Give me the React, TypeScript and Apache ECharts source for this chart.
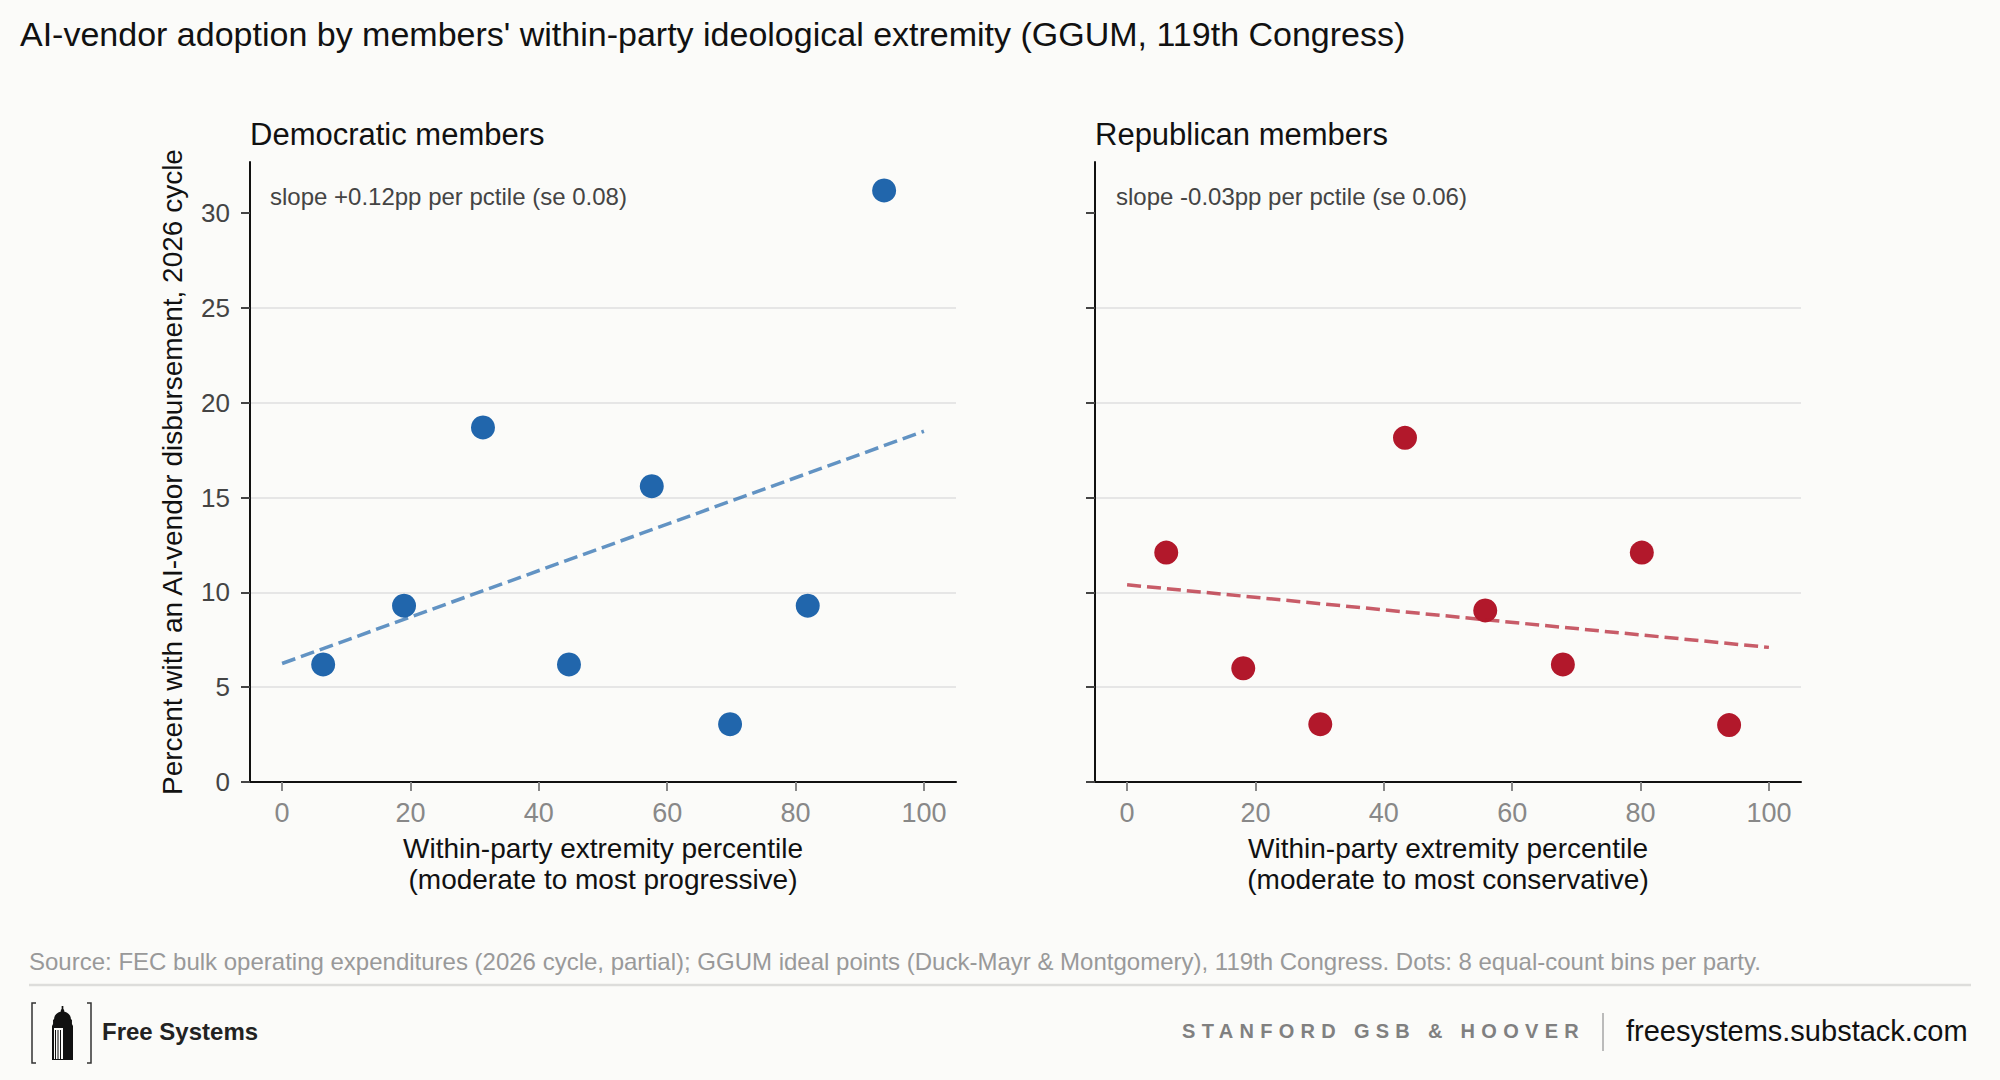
import { useEffect, useRef } from 'react';
import * as echarts from 'echarts';

// binned points
const demX = [6.4, 19.0, 31.3, 44.7, 57.6, 69.8, 81.9, 93.8];
const demY = [6.2, 9.3, 18.7, 6.2, 15.6, 3.05, 9.3, 31.2];
const repX = [6.1, 18.1, 30.1, 43.3, 55.8, 67.9, 80.2, 93.8];
const repY = [12.1, 6.0, 3.05, 18.15, 9.05, 6.2, 12.1, 3.0];

// fitted line ends
const fitX = [0, 100];
const demFit = [6.25, 18.5];
const repFit = [10.4, 7.1];

const xTicks = [0, 20, 40, 60, 80, 100];
const yTicks = [0, 5, 10, 15, 20, 25, 30];

const FONT = '"Liberation Sans", Arial, Helvetica, sans-serif';
const DEM = '#2166ac';
const REP = '#b2182b';
const BG = '#fbfbf9';

const TOWER =
  'M9.2 0 L10.8 0 L10.8 3 L11.6 4 L11.6 5.5 C15.5 6.5 18 9.5 18 13 L19 14 L19 18 L20 20 L20 54 L0 54 L0 20 L1 18 L1 14 L2 13 C2 9.5 4.5 6.5 8.4 5.5 L8.4 4 L9.2 3 Z';
echarts.graphic.registerShape('tower', echarts.graphic.extendPath(TOWER, {}));

const xAxisFor = (gridIndex: number, name: string) => ({
  type: 'value',
  gridIndex,
  min: -5,
  max: 105,
  name,
  nameLocation: 'middle',
  nameGap: 51,
  nameTextStyle: { color: '#111', fontSize: 28, lineHeight: 31, fontFamily: FONT },
  axisLine: { show: true, onZero: false, lineStyle: { color: '#111', width: 2 } },
  axisTick: { show: true, length: 9, customValues: xTicks, lineStyle: { color: '#888', width: 2 } },
  axisLabel: { customValues: xTicks, color: '#888', fontSize: 27, margin: 17, fontFamily: FONT },
  splitLine: { show: false },
});

const yAxisFor = (gridIndex: number, showLabels: boolean, name: string) => ({
  type: 'value',
  gridIndex,
  min: 0,
  max: 32.7,
  interval: 5,
  name,
  nameLocation: 'middle',
  nameGap: 64,
  nameRotate: 90,
  nameTextStyle: { color: '#111', fontSize: 28, fontFamily: FONT },
  axisLine: { show: true, onZero: false, lineStyle: { color: '#111', width: 2 } },
  axisTick: { show: true, length: 9, customValues: yTicks, lineStyle: { color: '#444', width: 2 } },
  axisLabel: { show: showLabels, customValues: yTicks, color: '#444', fontSize: 26, margin: 20, fontFamily: FONT },
  splitLine: { show: true, showMinLine: false, showMaxLine: false, lineStyle: { color: '#e6e6e6', width: 2 } },
});

const txt = (text: string, x: number, y: number, fontSize: number, fill: string, extra: any = {}) => ({
  type: 'text',
  x,
  y,
  style: {
    text,
    fontSize,
    fill,
    fontFamily: FONT,
    align: 'left',
    verticalAlign: 'middle',
    textAlign: 'left',
    textVerticalAlign: 'middle',
    ...extra,
  },
});

export default function App() {
  const ref = useRef<HTMLDivElement>(null);

  useEffect(() => {
    if (!ref.current) return;
    document.body.style.margin = '0';
    const chart = echarts.init(ref.current, undefined, { renderer: 'svg' });

    const option: any = {
      animation: false,
      backgroundColor: BG,
      textStyle: { fontFamily: FONT },
      grid: [
        { left: 250, top: 162, width: 706, height: 620 },
        { left: 1095, top: 162, width: 706, height: 620 },
      ],
      xAxis: [
        xAxisFor(0, 'Within-party extremity percentile\n(moderate to most progressive)'),
        xAxisFor(1, 'Within-party extremity percentile\n(moderate to most conservative)'),
      ],
      yAxis: [
        yAxisFor(0, true, 'Percent with an AI-vendor disbursement, 2026 cycle'),
        yAxisFor(1, false, ''),
      ],
      series: [
        {
          type: 'scatter',
          xAxisIndex: 0,
          yAxisIndex: 0,
          symbolSize: 24,
          itemStyle: { color: DEM, opacity: 1 },
          data: demX.map((x, i) => [x, demY[i]]),
          z: 3,
        },
        {
          type: 'line',
          xAxisIndex: 0,
          yAxisIndex: 0,
          showSymbol: false,
          lineStyle: { color: DEM, opacity: 0.7, width: 3.5, type: [14, 6] },
          data: fitX.map((x, i) => [x, demFit[i]]),
          z: 4,
        },
        {
          type: 'scatter',
          xAxisIndex: 1,
          yAxisIndex: 1,
          symbolSize: 24,
          itemStyle: { color: REP, opacity: 1 },
          data: repX.map((x, i) => [x, repY[i]]),
          z: 3,
        },
        {
          type: 'line',
          xAxisIndex: 1,
          yAxisIndex: 1,
          showSymbol: false,
          lineStyle: { color: REP, opacity: 0.7, width: 3.5, type: [14, 6] },
          data: fitX.map((x, i) => [x, repFit[i]]),
          z: 4,
        },
      ],
      graphic: [
        txt("AI-vendor adoption by members' within-party ideological extremity (GGUM, 119th Congress)", 20, 34, 34, '#111'),
        txt('Democratic members', 250, 134, 31, '#111'),
        txt('Republican members', 1095, 134, 31, '#111'),
        txt('slope +0.12pp per pctile (se 0.08)', 270, 196, 24, '#444'),
        txt('slope -0.03pp per pctile (se 0.06)', 1116, 196, 24, '#444'),
        txt(
          'Source: FEC bulk operating expenditures (2026 cycle, partial); GGUM ideal points (Duck-Mayr & Montgomery), 119th Congress. Dots: 8 equal-count bins per party.',
          29,
          961,
          24,
          '#999'
        ),
        {
          type: 'line',
          shape: { x1: 29, y1: 985, x2: 1971, y2: 985 },
          style: { stroke: '#dddddb', lineWidth: 2.5 },
        },
        // logo
        {
          type: 'polyline',
          shape: { points: [[36, 1003], [32, 1003], [32, 1063], [36, 1063]] },
          style: { stroke: '#333', lineWidth: 1.5, fill: null },
        },
        {
          type: 'polyline',
          shape: { points: [[87, 1003], [91, 1003], [91, 1063], [87, 1063]] },
          style: { stroke: '#333', lineWidth: 1.5, fill: null },
        },
        { type: 'tower', x: 52, y: 1006, scaleX: 1.05, scaleY: 1, style: { fill: '#111' } },
        { type: 'rect', shape: { x: 54, y: 1028, width: 9, height: 31 }, style: { fill: BG } },
        { type: 'line', shape: { x1: 55.5, y1: 1030, x2: 55.5, y2: 1059 }, style: { stroke: '#111', lineWidth: 1 } },
        { type: 'line', shape: { x1: 58, y1: 1030, x2: 58, y2: 1059 }, style: { stroke: '#111', lineWidth: 1 } },
        { type: 'line', shape: { x1: 60.5, y1: 1030, x2: 60.5, y2: 1059 }, style: { stroke: '#111', lineWidth: 1 } },
        txt('Free Systems', 102, 1031, 24, '#222', { fontWeight: 'bold' }),
        txt('STANFORD GSB & HOOVER', 1182, 1031, 20, '#808080', { fontWeight: 'bold' }),
        {
          type: 'line',
          shape: { x1: 1603, y1: 1013, x2: 1603, y2: 1051 },
          style: { stroke: '#bbb', lineWidth: 2 },
        },
        txt('freesystems.substack.com', 1626, 1031, 29, '#111'),
      ],
    };

    chart.setOption(option);

    // zrender has no letter spacing; add it to the finished svg text
    const spaceOut = () => {
      ref.current?.querySelectorAll('text').forEach((t) => {
        if (t.textContent === 'STANFORD GSB & HOOVER') t.setAttribute('letter-spacing', '6.3');
      });
    };
    spaceOut();
    chart.on('finished', spaceOut);

    return () => {
      chart.dispose();
    };
  }, []);

  return <div ref={ref} style={{ width: 2000, height: 1080 }} />;
}
